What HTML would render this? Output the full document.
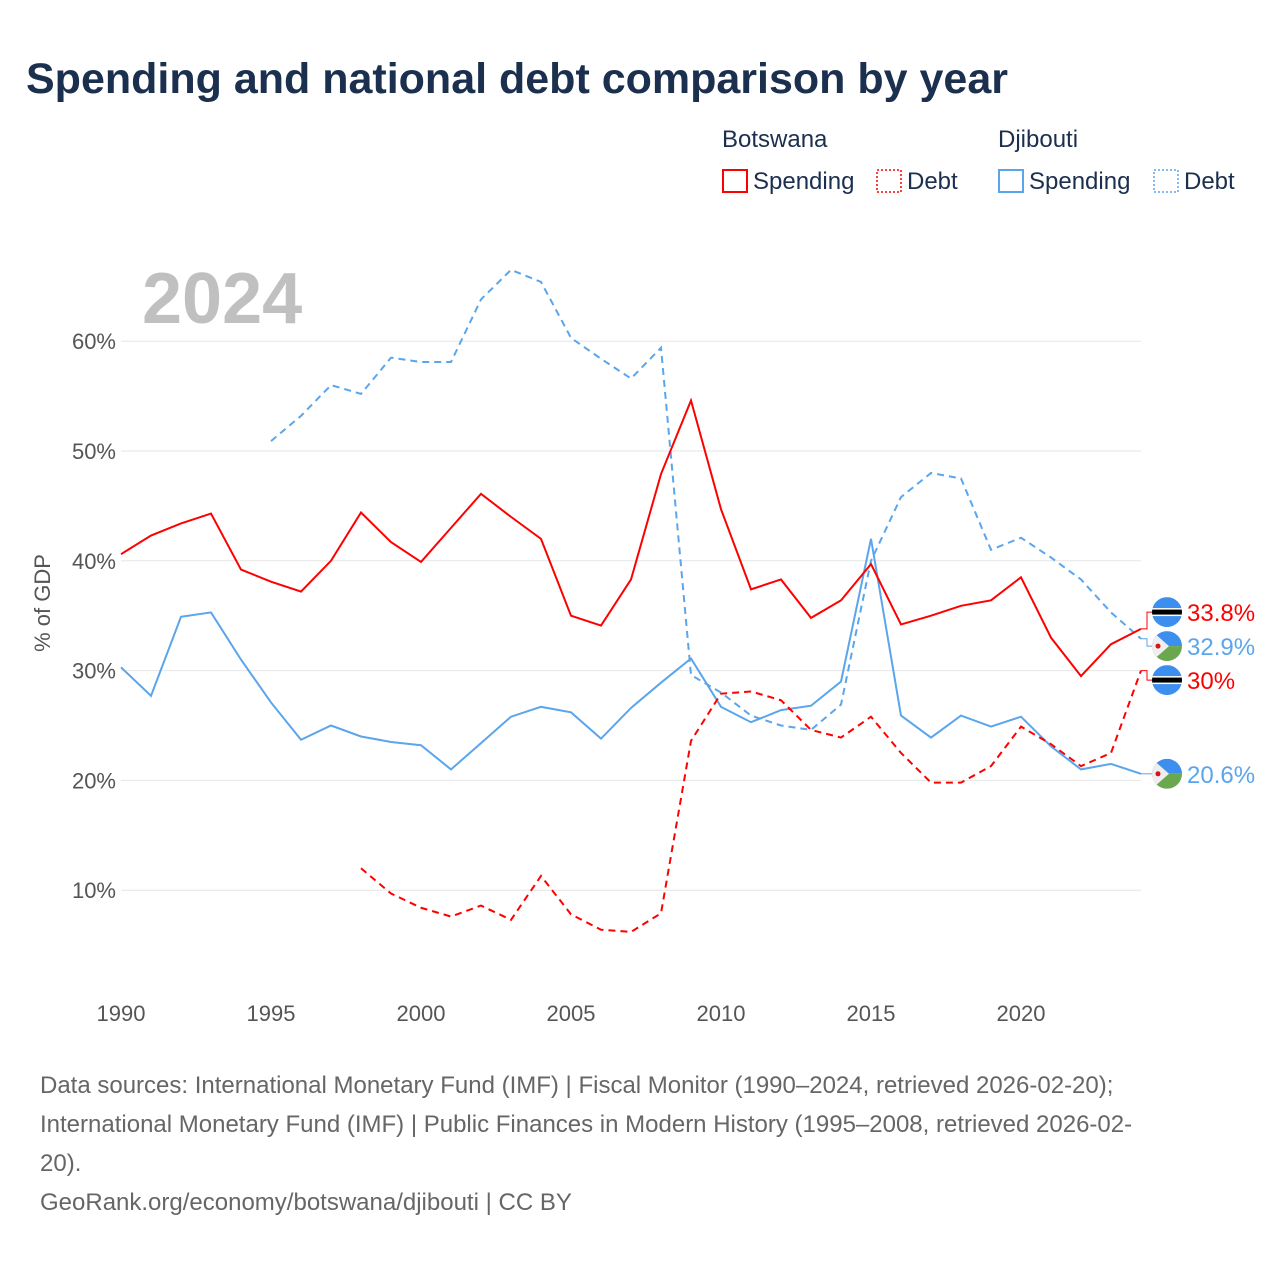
<!DOCTYPE html>
<html><head><meta charset="utf-8"><style>
body{margin:0;background:#fff;font-family:"Liberation Sans",sans-serif}
#wrap{position:relative;width:1280px;height:1280px;overflow:hidden}
</style></head><body>
<div id="wrap">
<svg id="svg" width="1280" height="1280">
<text x="26" y="93" font-size="43" font-weight="bold" fill="#1b2f4e">Spending and national debt comparison by year</text>
<g font-size="24" fill="#1b2f4e">
<text x="722" y="147">Botswana</text>
<text x="998" y="147">Djibouti</text>
<g><rect x="723" y="170" width="24" height="22" fill="none" stroke="#f00" stroke-width="2"/><text x="753" y="189">Spending</text></g>
<g><rect x="877" y="170" width="24" height="22" fill="none" stroke="#f00" stroke-width="1.5" stroke-dasharray="2,2"/><text x="907" y="189">Debt</text></g>
<g><rect x="999" y="170" width="24" height="22" fill="none" stroke="#5aa5ec" stroke-width="2"/><text x="1029" y="189">Spending</text></g>
<g><rect x="1154" y="170" width="24" height="22" fill="none" stroke="#5aa5ec" stroke-width="1.5" stroke-dasharray="2,2"/><text x="1184" y="189">Debt</text></g>
</g>
<text x="142" y="323" font-size="72" font-weight="bold" fill="#c0c0c0">2024</text>
<text transform="translate(50,603) rotate(-90)" text-anchor="middle" font-size="22" fill="#555">% of GDP</text>
<g id="grid"></g><g id="series"></g><g id="ends"></g>
<g font-size="24" fill="#666">
<text x="40" y="1093">Data sources: International Monetary Fund (IMF) | Fiscal Monitor (1990–2024, retrieved 2026-02-20);</text>
<text x="40" y="1132">International Monetary Fund (IMF) | Public Finances in Modern History (1995–2008, retrieved 2026-02-</text>
<text x="40" y="1171">20).</text>
<text x="40" y="1210">GeoRank.org/economy/botswana/djibouti | CC BY</text>
</g>
</svg></div>
<script>
const bwSpendYears=[1990,1991,1992,1993,1994,1995,1996,1997,1998,1999,2000,2001,2002,2003,2004,2005,2006,2007,2008,2009,2010,2011,2012,2013,2014,2015,2016,2017,2018,2019,2020,2021,2022,2023,2024];
const bwSpend=[40.6,42.3,43.4,44.3,39.2,38.1,37.2,40.0,44.4,41.7,39.9,43.0,46.1,44.0,42.0,35.0,34.1,38.3,47.9,54.6,44.7,37.4,38.3,34.8,36.4,39.7,34.2,35.0,35.9,36.4,38.5,33.0,29.5,32.4,33.8];
const bwDebtYears=[1998,1999,2000,2001,2002,2003,2004,2005,2006,2007,2008,2009,2010,2011,2012,2013,2014,2015,2016,2017,2018,2019,2020,2021,2022,2023,2024];
const bwDebt=[12.0,9.7,8.4,7.6,8.6,7.3,11.3,7.8,6.4,6.2,7.9,23.6,27.9,28.1,27.3,24.6,23.9,25.8,22.5,19.8,19.8,21.3,24.9,23.3,21.3,22.5,30.0];
const djSpendYears=bwSpendYears;
const djSpend=[30.3,27.7,34.9,35.3,31.0,27.1,23.7,25.0,24.0,23.5,23.2,21.0,23.4,25.8,26.7,26.2,23.8,26.6,28.9,31.1,26.7,25.3,26.4,26.8,29.0,42.0,25.9,23.9,25.9,24.9,25.8,23.1,21.0,21.5,20.6];
const djDebtYears=[1995,1996,1997,1998,1999,2000,2001,2002,2003,2004,2005,2006,2007,2008,2009,2010,2011,2012,2013,2014,2015,2016,2017,2018,2019,2020,2021,2022,2023,2024];
const djDebt=[50.9,53.2,56.0,55.2,58.5,58.1,58.1,63.8,66.5,65.4,60.3,58.4,56.6,59.4,29.6,28.0,25.9,25.0,24.6,26.9,40.0,45.8,48.0,47.5,41.0,42.1,40.3,38.3,35.3,32.9];
const yTicks=[10,20,30,40,50,60];
const xTicks=[1990,1995,2000,2005,2010,2015,2020];
const NS="http://www.w3.org/2000/svg";
const x=y=>121+(y-1990)*30;
const yS=v=>1000-v*10.98;
function mk(t,a,p){const e=document.createElementNS(NS,t);for(const k in a)e.setAttribute(k,a[k]);p.appendChild(e);return e;}
const grid=document.getElementById('grid');
yTicks.forEach(v=>{
 const l=mk('line',{x1:121,x2:1141,y1:yS(v),y2:yS(v),stroke:'#e6e6e6'},grid);
 
 
 const t=mk('text',{x:116,y:yS(v)+8,'text-anchor':'end','font-size':22,fill:'#555'},grid);
 t.textContent=v+'%';
 
 
});
xTicks.forEach(v=>{
 const t=mk('text',{x:x(v),y:1021,'text-anchor':'middle','font-size':22,fill:'#555'},grid);
 t.textContent=v;
 
 
});
const ser=document.getElementById('series');
function line(ys,vs,col,dash,name){
 const p=mk('path',{d:ys.map((yr,i)=>(i?'L':'M')+x(yr)+','+yS(vs[i])).join(''),fill:'none',stroke:col,'stroke-width':2,'stroke-dasharray':dash?'7,5':'none'},ser);
 
 
}
line(djDebtYears,djDebt,'#5aa5ec',true,'djibouti-debt-line');
line(djSpendYears,djSpend,'#5aa5ec',false,'djibouti-spending-line');
line(bwDebtYears,bwDebt,'#f00',true,'botswana-debt-line');
line(bwSpendYears,bwSpend,'#f00',false,'botswana-spending-line');
const ends=[
 {v:bwSpend[bwSpend.length-1],c:'#f00',f:'bw',n:'botswana-spending'},
 {v:djDebt[djDebt.length-1],c:'#5aa5ec',f:'dj',n:'djibouti-debt'},
 {v:bwDebt[bwDebt.length-1],c:'#f00',f:'bw',n:'botswana-debt'},
 {v:djSpend[djSpend.length-1],c:'#5aa5ec',f:'dj',n:'djibouti-spending'}];
ends.sort((a,b)=>b.v-a.v);
ends.forEach(e=>{e.y=yS(e.v);});
for(let it=0;it<200;it++){
 for(let i=0;i<ends.length-1;i++){
  const gap=ends[i+1].y-ends[i].y;
  if(gap<34){const d=(34-gap)/2;ends[i].y-=d;ends[i+1].y+=d;}
 }
}
const eg=document.getElementById('ends');
ends.forEach(e=>{
 const g=mk('g',{},eg);
 
 
 const y0=yS(e.v),cx=1167,cy=e.y;
 mk('path',{d:`M1141,${y0}L1147,${y0}L1147,${cy}L1152,${cy}`,fill:'none',stroke:e.c,'stroke-width':1},g);
 const id='c'+e.n;
 const cp=mk('clipPath',{id:id},g);mk('circle',{cx:cx,cy:cy,r:15},cp);
 const f=mk('g',{'clip-path':`url(#${id})`},g);
 if(e.f==='bw'){
  mk('rect',{x:cx-15,y:cy-15,width:30,height:30,fill:'#3d8fef'},f);
  mk('rect',{x:cx-15,y:cy-4,width:30,height:8,fill:'#fff'},f);
  mk('rect',{x:cx-15,y:cy-2.5,width:30,height:5,fill:'#000'},f);
 }else{
  mk('rect',{x:cx-15,y:cy-15,width:30,height:15,fill:'#3d8fef'},f);
  mk('rect',{x:cx-15,y:cy,width:30,height:15,fill:'#6aa84f'},f);
  mk('path',{d:`M${cx-15},${cy-15}L${cx+2},${cy}L${cx-15},${cy+15}Z`,fill:'#eee'},f);
  mk('circle',{cx:cx-9,cy:cy,r:2.5,fill:'#d7141a'},f);
 }
 const t=mk('text',{x:1187,y:cy+9,'font-size':24,fill:e.c},g);
 t.textContent=(Math.round(e.v*10)/10)+'%';
});
</script>
</body></html>
